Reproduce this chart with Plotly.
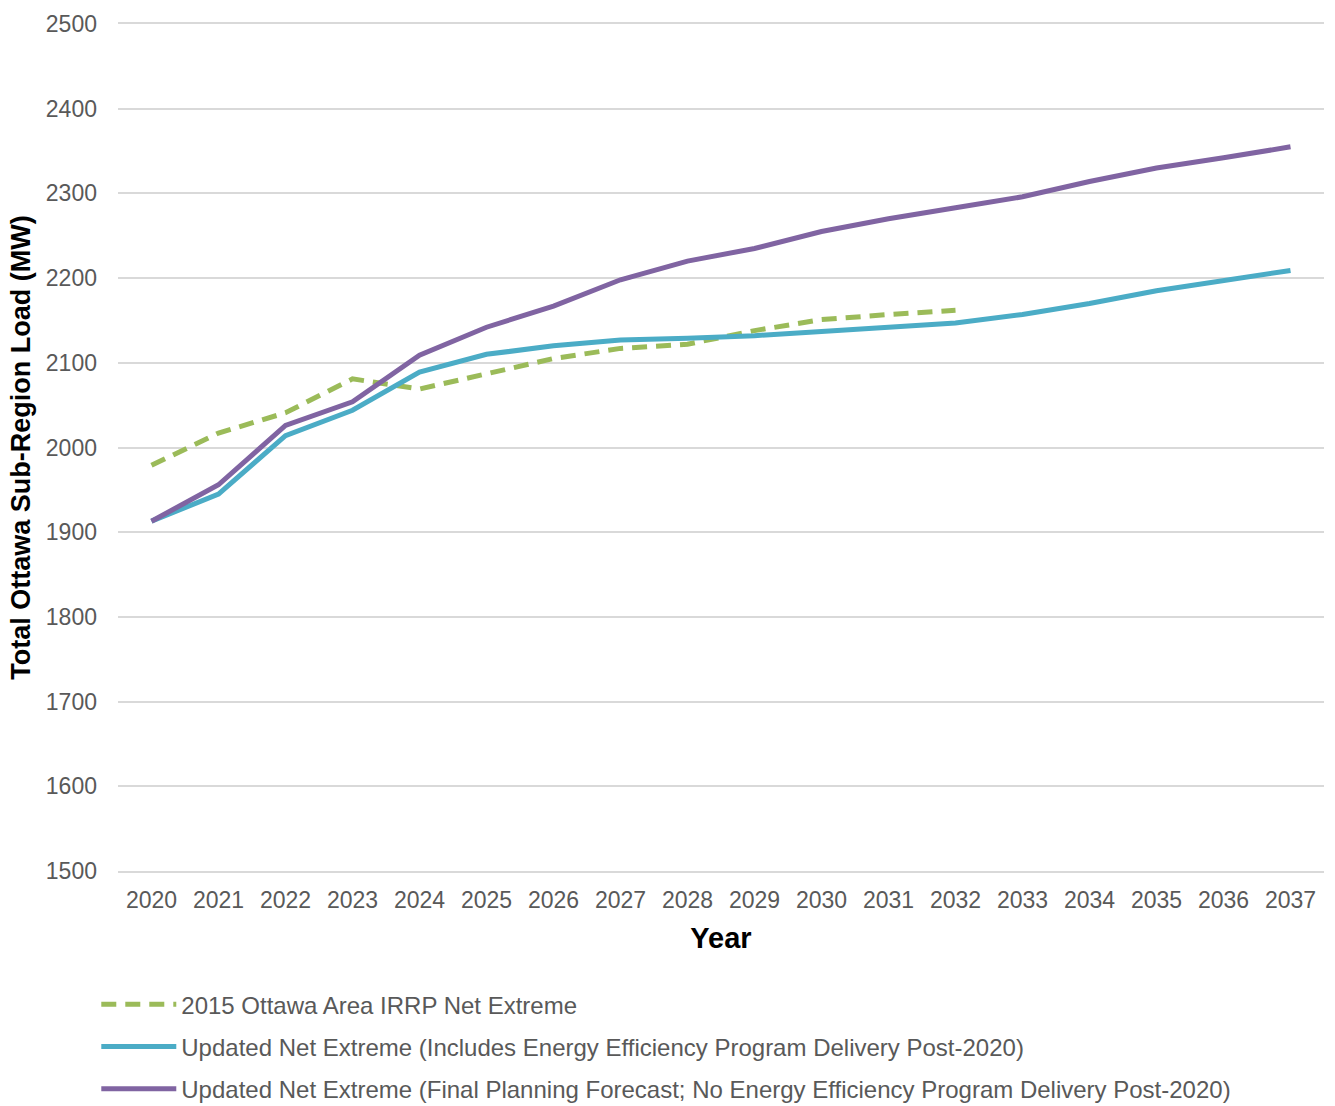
import plotly.graph_objects as go

# Forecast years
years = [str(y) for y in range(2020, 2038)]

# 2015 Ottawa Area IRRP Net Extreme (MW), 2020-2032
irrp_2015 = [1979, 2017, 2041, 2081, 2069, 2087, 2105, 2117, 2122, 2138, 2151, 2157, 2162]

# Updated Net Extreme incl. energy efficiency delivery (MW)
updated_ee = [1913, 1945, 2014, 2044, 2089, 2110, 2120, 2127, 2129, 2132, 2137, 2142, 2147,
              2157, 2170, 2185, 2197, 2209]

# Updated Net Extreme, final planning forecast, no EE delivery (MW)
updated_final = [1913, 1956, 2026, 2054, 2109, 2142, 2167, 2198, 2220, 2235, 2255, 2270, 2283,
                 2296, 2314, 2330, 2342, 2355]

names = [
    "2015 Ottawa Area IRRP Net Extreme",
    "Updated Net Extreme (Includes Energy Efficiency Program Delivery Post-2020)",
    "Updated Net Extreme (Final Planning Forecast; No Energy Efficiency Program Delivery Post-2020)",
]

FONT = "Liberation Sans, Arial, sans-serif"
GRID = "#d9d9d9"

fig = go.Figure()
fig.add_trace(go.Scatter(
    x=years[:len(irrp_2015)], y=irrp_2015, mode="lines", name=names[0],
    legendgroup="a",
    line=dict(color="#9bbb59", width=5, dash="15px,9px"),
))
fig.add_trace(go.Scatter(
    x=years, y=updated_ee, mode="lines", name=names[1],
    legendgroup="b",
    line=dict(color="#4bacc6", width=5),
))
fig.add_trace(go.Scatter(
    x=years, y=updated_final, mode="lines", name=names[2],
    legendgroup="c",
    line=dict(color="#8064a2", width=5),
))

fig.update_layout(
    width=1335, height=1106,
    margin=dict(l=118, r=11, t=22, b=235),
    paper_bgcolor="white", plot_bgcolor="white",
    font=dict(family=FONT, color="#595959", size=22),
    showlegend=True,
    legend=dict(
        xref="paper", yref="container",
        x=-0.018, y=0.112, xanchor="left", yanchor="top",
        orientation="v", traceorder="grouped",
        tracegroupgap=8, itemwidth=75,
        font=dict(family=FONT, size=24, color="#595959"),
        bgcolor="rgba(0,0,0,0)",
    ),
    xaxis=dict(
        type="category", range=[-0.5, 17.5],
        showgrid=False, zeroline=False,
        showline=True, mirror=True, linecolor=GRID, linewidth=1.5,
        ticks="", ticklabelstandoff=8,
        tickfont=dict(family=FONT, size=23, color="#595959"),
        title=dict(text="<b>Year</b>", standoff=15,
                   font=dict(family=FONT, size=29, color="black")),
    ),
    yaxis=dict(
        range=[1500, 2500], dtick=100, tick0=1500,
        showgrid=True, gridcolor=GRID, gridwidth=1.5,
        zeroline=False, showline=False, ticks="",
        ticklabelstandoff=20,
        tickfont=dict(family=FONT, size=23, color="#595959"),
        title=dict(text="<b>Total Ottawa Sub-Region Load (MW)</b>", standoff=7,
                   font=dict(family=FONT, size=27, color="black")),
    ),
)

fig.write_html("out.html")
